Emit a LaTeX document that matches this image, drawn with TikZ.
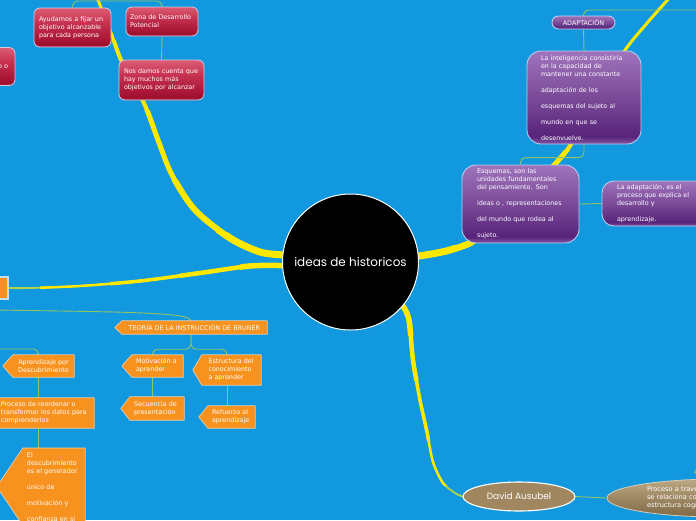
\documentclass[tikz,border=0pt]{standalone}
\usepackage{fontspec}
\setmainfont{DejaVu Sans}
\newfontfamily\handfont{Poppins}
\usetikzlibrary{calc,shapes.geometric}
\definecolor{bgblue}{RGB}{18,152,222}
\definecolor{ybr}{RGB}{255,232,0}
\definecolor{ygr}{RGB}{175,212,70}
\definecolor{connc}{RGB}{145,196,100}
\definecolor{redL}{RGB}{220,92,116}
\definecolor{redM}{RGB}{196,48,78}
\definecolor{redD}{RGB}{160,14,46}
\definecolor{redE}{RGB}{185,55,85}
\definecolor{redline}{RGB}{215,200,225}
\definecolor{purpL}{RGB}{160,116,188}
\definecolor{purpM}{RGB}{122,74,152}
\definecolor{purpD}{RGB}{88,36,122}
\definecolor{purpE}{RGB}{132,88,168}
\definecolor{purpline}{RGB}{185,205,238}
\definecolor{orng}{RGB}{247,146,30}
\definecolor{tagline}{RGB}{250,205,160}
\definecolor{leftline}{RGB}{200,222,240}
\definecolor{brownF}{RGB}{160,135,95}
\definecolor{brownL}{RGB}{188,168,132}
\definecolor{brownD}{RGB}{128,104,68}
\definecolor{brownline}{RGB}{215,205,185}
\pgfdeclareverticalshading{redsh}{100bp}{color(0bp)=(redE); color(25bp)=(redE); color(28bp)=(redD); color(55bp)=(redM); color(75bp)=(redL); color(100bp)=(redL)}
\pgfdeclareverticalshading{purpsh}{100bp}{color(0bp)=(purpE); color(25bp)=(purpE); color(29bp)=(purpD); color(50bp)=(purpM); color(75bp)=(purpL); color(100bp)=(purpL)}
\pgfdeclarelayer{bgl}
\pgfdeclarelayer{lines}
\pgfsetlayers{bgl,lines,main}
\newcommand\mktag[2]{%
  \fill[orng] ([xshift=0.6pt]#1.north west) -- ($(#1.west)+(-#2,0)$) -- ([xshift=0.6pt]#1.south west) -- cycle;
  \draw[tagedge] (#1.north west) -- (#1.north east) -- (#1.south east) -- (#1.south west) -- ($(#1.west)+(-#2,0)$) -- cycle;}
\begin{document}
\begin{tikzpicture}[x=1pt,y=-1pt,
  base/.style={font=\fontsize{6.4}{8}\selectfont, text=white, inner sep=0pt},
  rednode/.style={base, shade, shading=redsh, draw=redline, line width=0.8pt, rounded corners=6pt, align=left},
  purpnode/.style={base, shade, shading=purpsh, draw=purpline, line width=0.9pt, rounded corners=14pt, align=left},
  tagbody/.style={base, fill=orng, align=left},
  tagedge/.style={draw=tagline, line width=0.7pt, line join=round},
  conn/.style={draw=connc, line width=0.9pt, rounded corners=5pt},
  ybranch/.style={draw=ybr, line cap=round, line join=round},
  gbranch/.style={draw=ygr, line cap=round, line join=round},
]
\useasboundingbox (0,0) rectangle (696,520);
\begin{pgfonlayer}{bgl}
\fill[bgblue] (0,0) rectangle (696,520);
\end{pgfonlayer}

% central
\node[circle, fill=black, draw=white, line width=1pt, minimum size=136pt, inner sep=0pt, text=white, font=\handfont\fontsize{12}{14}\selectfont] (cen) at (350.5,262) {ideas de historicos};

% red nodes
\node[rednode, text width=67pt, inner xsep=5pt, minimum height=39pt] (ayud) at (72.5,27.5) {Ayudamos a fijar un\\objetivo alcanzable\\para cada persona};
\node[rednode, text width=64pt, inner xsep=4pt, minimum height=29pt] (zona) at (162,21.5) {Zona de Desarrollo\\Potencial};
\node[rednode, text width=75pt, inner xsep=5pt, minimum height=40pt] (nos) at (161.5,80) {Nos damos cuenta que\\hay muchos más\\objetivos por alcanzar};
\node[rednode, text width=60pt, inner xsep=7pt, minimum height=38pt, align=right] (redl) at (-22,66.5) {o o};

% purple nodes
\node[purpnode, rounded corners=6.5pt, minimum width=63pt, minimum height=13pt, align=center] (adapt) at (583.5,22.5) {ADAPTACIÓN};
\node[purpnode, text width=86pt, inner xsep=14pt, minimum height=93pt] (intel) at (584,97.5) {La inteligencia consistiría\\en la capacidad de\\mantener una constante\\[8pt]adaptación de los\\[8pt]esquemas del sujeto al\\[8pt]mundo en que se\\[8pt]desenvuelve.};
\node[purpnode, text width=87pt, inner xsep=15pt, minimum height=78pt] (esq) at (520.5,204) {Esquemas, son las\\unidades fundamentales\\del pensamiento. Son\\[8pt]ideas o , representaciones\\[8pt]del mundo que rodea al\\[8pt]sujeto.};
\node[purpnode, rounded corners=12pt, text width=80pt, inner xsep=15pt, minimum height=45pt] (adap2) at (657,203.5) {La adaptación, es el\\proceso que explica el\\desarrollo y\\[8pt]aprendizaje.};

% orange nodes
\node[base, fill=orng, draw=leftline, line width=1.2pt, minimum width=38pt, minimum height=22pt] (leftor) at (-11,288) {};
\node[tagbody, align=center, minimum width=145pt, minimum height=13pt] (teoria) at (194.5,327.5) {TEORÍA DE LA INSTRUCCIÓN DE BRUNER};
\mktag{teoria}{7}
\node[tagbody, align=center, minimum width=61pt, minimum height=22pt] (apr) at (43.5,366) {Aprendizaje por\\Descubrimiento};
\mktag{apr}{10}
\node[tagbody, text width=43pt, inner xsep=4pt, minimum height=22pt] (motiv) at (157.5,366) {Motivación a\\aprender};
\mktag{motiv}{10}
\node[tagbody, text width=46pt, inner xsep=6.5pt, minimum height=30pt] (estr) at (231.5,370) {Estructura del\\conocimiento\\a aprender};
\mktag{estr}{9}
\node[tagbody, text width=46pt, inner xsep=4pt, minimum height=23pt] (secu) at (157,408.5) {Secuencia de\\presentación};
\mktag{secu}{9}
\node[tagbody, text width=39pt, inner xsep=4pt, minimum height=22pt] (refu) at (231.5,417) {Refuerzo al\\aprendizaje};
\mktag{refu}{9}
\node[tagbody, text width=87pt, inner xsep=6pt, minimum height=30pt] (proc) at (44.5,413) {Proceso de reordenar o\\transformar los datos para\\comprenderlos};
\mktag{proc}{10}
\node[tagbody, text width=54pt, inner xsep=4pt, inner ysep=4pt, anchor=north] (desc) at (54,448) {El\\descubrimiento\\es el generador\\[8pt]único de\\[8pt]motivación y\\[8pt]confianza en sí};
\mktag{desc}{26}

% brown nodes
\node[ellipse, fill=brownF, draw=white, line width=1.1pt, minimum width=112pt, minimum height=29pt, inner sep=0pt, text=white, font=\handfont\fontsize{9}{10}\selectfont] (david) at (519,496.5) {David Ausubel};
\node[ellipse, top color=brownL, bottom color=brownD, draw=brownline, line width=0.8pt, minimum width=226pt, minimum height=38pt, inner sep=0pt, text=white, text width=146pt, align=left, font=\fontsize{6.6}{8}\selectfont] (bigb) at (720,498) {Proceso a través del cual\\se relaciona con la\\estructura cognitiva};

\begin{pgfonlayer}{lines}
% yellow main branches
\foreach \w/\yt in {3/-20,4/40,5/110,6/180,7/232}{
  \begin{scope}
    \clip (-50,\yt) rectangle (420,600);
    \draw[ybranch,line width=\w pt] plot[smooth] coordinates {(cen.174) (260,252) (230,238) (195,210) (172,175) (158,140) (147,110) (135,85) (121,60) (110,30) (98,0) (95,-8)};
  \end{scope}}
\draw[gbranch,line width=1.8pt] plot[smooth] coordinates {(cen.183) (250,266) (200,273) (140,281) (80,286) (30,288) (leftor.east)};
\foreach \w/\xt in {2.5/40,3.5/110,4.5/180,5.5/240}{
  \begin{scope}
    \clip (\xt,200) rectangle (320,320);
    \draw[ybranch,line width=\w pt] plot[smooth] coordinates {(cen.183) (250,266) (200,273) (140,281) (80,286) (30,288) (leftor.east)};
  \end{scope}}
\foreach \w/\yt in {3/-20,4/60,5/150,6/220,7/245}{
  \begin{scope}
    \clip (380,\yt) rectangle (720,330);
    \draw[ybranch,line width=\w pt] plot[smooth] coordinates {(cen.5) (450,250) (482,236) (525,195) (567,150) (595,102) (623,53) (648,22) (672,-5)};
  \end{scope}}
\draw[gbranch,line width=1.8pt] plot[smooth] coordinates {(cen.-40) (409,320) (413,360) (420,400) (427,432) (433,462) (443,483) (455,493) (david.west)};
\foreach \w/\yt in {2.5/485,3.5/440,4.5/380,5.5/335}{
  \begin{scope}
    \clip (350,250) rectangle (500,\yt);
    \draw[ybranch,line width=\w pt] plot[smooth] coordinates {(cen.-40) (409,320) (413,360) (420,400) (427,432) (433,462) (443,483) (455,493) (david.west)};
  \end{scope}}

% thin connectors
\draw[conn] (ayud.north) |- (117,1) -| (zona.north);
\draw[conn] (zona.south) -- (nos.north);
\coordinate (tr) at (705,10);
\draw[conn] (adapt.north) |- (tr);
\draw[conn] (adapt.south) -- (intel.north);
\draw[conn] (intel.south) |- ($(esq.north)+(0,-7)$) -- (esq.north);
\draw[conn] (esq.east) -- (adap2.west);
\draw[conn] (david.east) -- (bigb.west);
\coordinate (br) at (706,464);
\draw[conn] (bigb.110) .. controls (690,473) .. (br);
\coordinate (l1) at (-5,310);
\draw[conn] (l1) .. controls (120,312) and (191,312) .. ([xshift=-3.5pt]teoria.north);
\draw[conn] ([xshift=-3.5pt]teoria.south) -- ++(0,15) -| ([xshift=-5pt]motiv.north);
\draw[conn] ([xshift=-3.5pt]teoria.south) -- ++(0,15) -| ([xshift=-4.5pt]estr.north);
\coordinate (l2) at (-5,349);
\draw[conn] (l2) -| ([xshift=-5pt]apr.north);
\draw[conn] ([xshift=-5pt]apr.south) -- ([xshift=-6pt]proc.north);
\draw[conn] ([xshift=-6pt]proc.south) -- ([xshift=-15.5pt]desc.north);
\draw[conn] ([xshift=-5pt]motiv.south) -- ([xshift=-4.5pt]secu.north);
\draw[conn] ([xshift=-4.5pt]estr.south) -- ([xshift=-4.5pt]refu.north);
\end{pgfonlayer}
\end{tikzpicture}
\end{document}
